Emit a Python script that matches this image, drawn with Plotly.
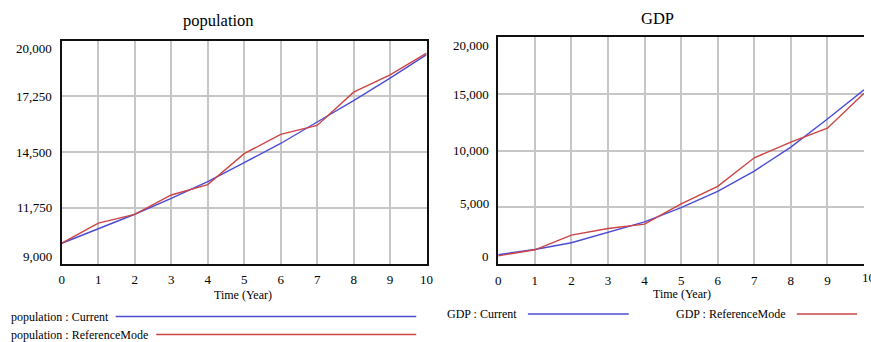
import plotly.graph_objects as go

W, H = 871, 342

years = [0, 1, 2, 3, 4, 5, 6, 7, 8, 9, 10]
x_tick_labels = ["0", "1", "2", "3", "4", "5", "6", "7", "8", "9", "10"]

pop_current = [10000, 10700, 11430, 12210, 13040, 13980, 14920, 15980, 17030, 18140, 19300]
pop_reference = [10000, 10990, 11420, 12380, 12890, 14420, 15370, 15810, 17450, 18310, 19380]
pop_ticks = [9000, 11750, 14500, 17250, 20000]
pop_tick_labels = ["9,000", "11,750", "14,500", "17,250", "20,000"]

gdp_current = [820, 1280, 1870, 2800, 3710, 4960, 6400, 8190, 10300, 12780, 15350]
gdp_reference = [720, 1250, 2540, 3130, 3510, 5300, 6840, 9360, 10730, 11960, 15050]
gdp_ticks = [0, 5000, 10000, 15000, 20000]
gdp_tick_labels = ["0", "5,000", "10,000", "15,000", "20,000"]

FONT = "Liberation Serif"
BLUE = "#4b4bd6"
RED = "#cc4444"

def px_x(p):
    return p / W

def px_y(p):
    return (H - p) / H

fig = go.Figure()

fig.add_trace(go.Scatter(x=years, y=pop_current, mode="lines", line=dict(color=BLUE, width=1.4),
                         xaxis="x", yaxis="y", showlegend=False))
fig.add_trace(go.Scatter(x=years, y=pop_reference, mode="lines", line=dict(color=RED, width=1.4),
                         xaxis="x", yaxis="y", showlegend=False))
fig.add_trace(go.Scatter(x=years, y=gdp_current, mode="lines", line=dict(color=BLUE, width=1.4),
                         xaxis="x2", yaxis="y2", showlegend=False))
fig.add_trace(go.Scatter(x=years, y=gdp_reference, mode="lines", line=dict(color=RED, width=1.4),
                         xaxis="x2", yaxis="y2", showlegend=False))

axis_common = dict(
    showgrid=True, gridcolor="#c6c6c6", gridwidth=1.5,
    showline=True, linecolor="#111111", linewidth=2.2,
    zeroline=False, ticks="",
    tickfont=dict(family=FONT, size=13, color="#000"),
)

fig.update_layout(
    width=W, height=H,
    margin=dict(l=0, r=0, t=0, b=0),
    paper_bgcolor="white", plot_bgcolor="white",
    xaxis=dict(domain=[px_x(59.5), px_x(428.5)], range=[0, 10], anchor="y", mirror=True,
               tickvals=years, ticktext=x_tick_labels, ticklabelstandoff=3, **axis_common),
    yaxis=dict(domain=[px_y(263.5), px_y(40.5)], range=[9000, 20000], anchor="x", mirror=True,
               tickvals=pop_ticks, showticklabels=False, **axis_common),
    xaxis2=dict(domain=[px_x(501), 1.0], range=[0, 10], anchor="y2", mirror=True,
                tickvals=years[:-1], ticktext=x_tick_labels[:-1], ticklabelstandoff=3, **axis_common),
    yaxis2=dict(domain=[px_y(264), px_y(37)], range=[0, 20000], anchor="x2", mirror=False,
                tickvals=gdp_ticks, showticklabels=False, **axis_common),
)

# last x label of the right chart, cut by the picture edge as in the original
fig.add_annotation(xref="x2", yref="y2 domain", x=years[-1], y=0, text=x_tick_labels[-1],
                   showarrow=False, xanchor="center", yanchor="top", yshift=-4, xshift=5,
                   font=dict(family=FONT, size=13, color="#000"))

# y tick labels (offset like the original software)
pop_shift = {20000: -8, 9000: 7}
for v, t in zip(pop_ticks, pop_tick_labels):
    fig.add_annotation(xref="x domain", yref="y", x=0, y=v, text=t, showarrow=False,
                       xanchor="right", xshift=-8, yshift=pop_shift.get(v, 0),
                       font=dict(family=FONT, size=13, color="#000"))
gdp_shift = {20000: -9, 15000: -1, 5000: 4, 0: 8}
for v, t in zip(gdp_ticks, gdp_tick_labels):
    fig.add_annotation(xref="x2 domain", yref="y2", x=0, y=v, text=t, showarrow=False,
                       xanchor="right", xshift=-7, yshift=gdp_shift.get(v, 0),
                       font=dict(family=FONT, size=13, color="#000"))

# titles
fig.add_annotation(xref="paper", yref="paper", x=px_x(218.5), y=px_y(20.5), text="population",
                   showarrow=False, xanchor="center", yanchor="middle",
                   font=dict(family=FONT, size=16.5, color="#000"))
fig.add_annotation(xref="paper", yref="paper", x=px_x(662), y=px_y(18.5), text="GDP",
                   showarrow=False, xanchor="center", yanchor="middle",
                   font=dict(family=FONT, size=16.5, color="#000"))

# axis titles
fig.add_annotation(xref="paper", yref="paper", x=px_x(243), y=px_y(295), text="Time (Year)",
                   showarrow=False, xanchor="center", yanchor="middle",
                   font=dict(family=FONT, size=12, color="#000"))
fig.add_annotation(xref="paper", yref="paper", x=px_x(687), y=px_y(293.5), text="Time (Year)",
                   showarrow=False, xanchor="center", yanchor="middle",
                   font=dict(family=FONT, size=12, color="#000"))

# legends (text followed by line sample)
legend_items = [
    ("population : Current", 6, 316.5, 114, 418, BLUE),
    ("population : ReferenceMode", 6, 334.5, 155, 418, RED),
    ("GDP : Current", 447.5, 314, 531, 633, BLUE),
    ("GDP : ReferenceMode", 678.5, 314, 803, 864, RED),
]
for text, tx, ty, x0, x1, col in legend_items:
    fig.add_annotation(xref="paper", yref="paper", x=px_x(tx), y=px_y(ty), text=text,
                       showarrow=False, xanchor="left", yanchor="middle",
                       font=dict(family=FONT, size=12, color="#000"))
    fig.add_shape(type="line", xref="paper", yref="paper",
                  x0=px_x(x0), x1=px_x(x1), y0=px_y(ty), y1=px_y(ty),
                  line=dict(color=col, width=1.6))

fig.write_html("out.html", config={"displayModeBar": False},
               post_script="document.body.style.margin='0';document.body.style.overflow='hidden';")
